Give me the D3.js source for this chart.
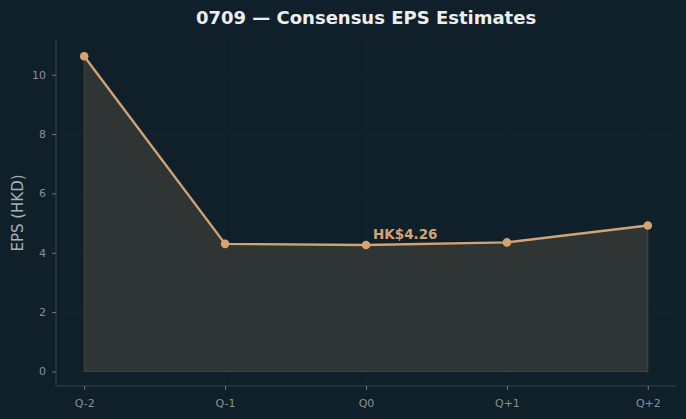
<!DOCTYPE html>
<html>
<head>
<meta charset="utf-8">
<script src="https://cdn.jsdelivr.net/npm/d3@7"></script>
<style>
  html, body { margin: 0; padding: 0; background: #10202a; }
  svg { display: block; font-family: 'DejaVu Sans', sans-serif; }
</style>
</head>
<body>
<svg width="686" height="419"></svg>
<script>
var quarters = ['Q-2', 'Q-1', 'Q0', 'Q+1', 'Q+2']
var eps = [10.62, 4.30, 4.26, 4.35, 4.92]
var yTicks = [0, 2, 4, 6, 8, 10]
var currentIndex = 2
var currentLabel = 'HK$4.26'

var svg = d3.select('svg'),
  margin = {top: 40, right: 10, bottom: 33, left: 56},
  width = +svg.attr('width') - margin.left - margin.right,
  height = +svg.attr('height') - margin.top - margin.bottom

svg.append('rect').attr('width', 686).attr('height', 419).attr('fill', '#10202a')

var x = d3.scaleLinear().domain([-0.2, 4.2]).range([0, width])
var y = d3.scaleLinear().domain([-0.49, 11.17]).range([height, 0])

var g = svg.append('g')
  .attr('transform', 'translate(' + margin.left + ',' + margin.top + ')')

// faint grid
g.selectAll('.gx').data(quarters).enter().append('line')
  .attr('x1', (d, i) => x(i)).attr('x2', (d, i) => x(i))
  .attr('y1', 0).attr('y2', height)
  .attr('stroke', '#16262f').attr('stroke-width', 0.8)
g.selectAll('.gy').data(yTicks).enter().append('line')
  .attr('x1', 0).attr('x2', width)
  .attr('y1', d => y(d)).attr('y2', d => y(d))
  .attr('stroke', '#16262f').attr('stroke-width', 0.8)

var area = d3.area()
  .x((d, i) => x(i))
  .y0(y(0))
  .y1(d => y(d))

g.append('path')
  .datum(eps)
  .attr('d', area)
  .attr('fill', '#2f3434')
  .attr('stroke', '#46463f')
  .attr('stroke-width', 1)

var line = d3.line()
  .x((d, i) => x(i))
  .y(d => y(d))

g.append('path')
  .datum(eps)
  .attr('d', line)
  .attr('fill', 'none')
  .attr('stroke', '#d4a373')
  .attr('stroke-width', 2.4)
  .attr('stroke-linejoin', 'round')

g.selectAll('.dot').data(eps).enter().append('circle')
  .attr('cx', (d, i) => x(i))
  .attr('cy', d => y(d))
  .attr('r', 4.3)
  .attr('fill', '#d4a373')

g.append('text')
  .attr('x', x(currentIndex) + 7)
  .attr('y', y(eps[currentIndex]) - 6)
  .attr('fill', '#d4a373')
  .attr('font-size', 13.5)
  .attr('font-weight', 'bold')
  .text(currentLabel)

// axes
var xAxis = d3.axisBottom(x).tickValues(d3.range(quarters.length))
  .tickFormat(i => quarters[i]).tickSize(4).tickPadding(9)
var yAxis = d3.axisLeft(y).tickValues(yTicks).tickSize(4).tickPadding(6)

var gx = g.append('g').attr('transform', 'translate(0,' + height + ')').call(xAxis)
var gy = g.append('g').call(yAxis)

;[gx, gy].forEach(a => {
  a.select('.domain').attr('stroke', '#3a4247').attr('stroke-width', 1)
  a.selectAll('.tick line').attr('stroke', '#6f767b')
  a.selectAll('.tick text').attr('fill', '#8a9196').attr('font-size', 11)
    .attr('font-family', 'DejaVu Sans, sans-serif')
})
gx.select('.domain').attr('d', 'M0,0H' + width)
gy.select('.domain').attr('d', 'M0,0V' + height)

svg.append('text')
  .attr('transform', 'translate(23,213) rotate(-90)')
  .attr('text-anchor', 'middle')
  .attr('fill', '#a9b0b4')
  .attr('font-size', 15)
  .text('EPS (HKD)')

svg.append('text')
  .attr('x', 366)
  .attr('y', 24)
  .attr('text-anchor', 'middle')
  .attr('fill', '#eeeeee')
  .attr('font-size', 18)
  .attr('font-weight', 'bold')
  .text('0709 — Consensus EPS Estimates')
</script>
</body>
</html>
